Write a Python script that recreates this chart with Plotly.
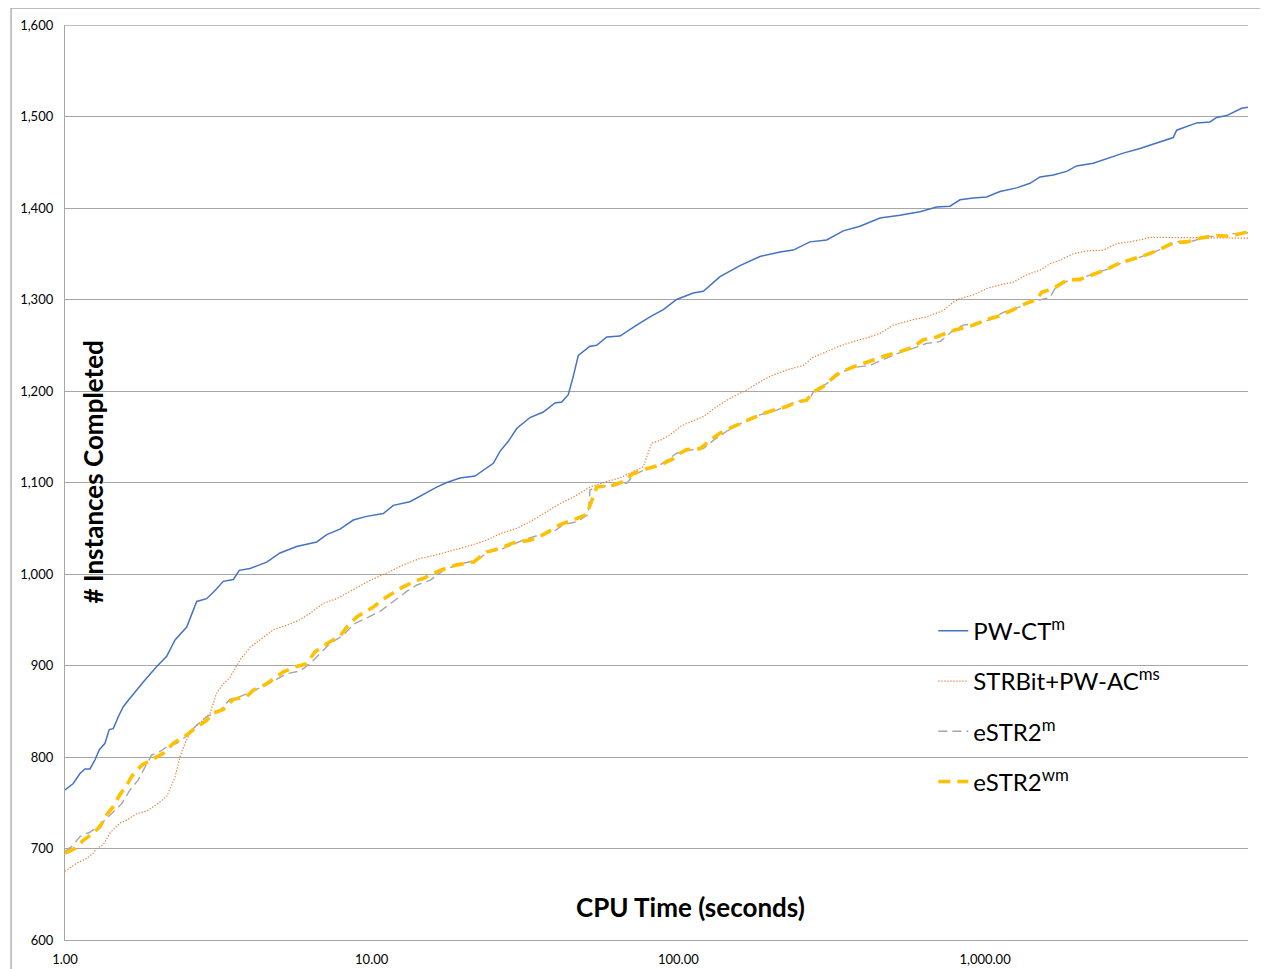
import math
import plotly.graph_objects as go

# ---- data (CPU time in seconds, # instances completed) ----
pwct_x = [1.00,1.064,1.119,1.162,1.206,1.253,1.294,1.350,1.394,1.437,1.492,1.549,1.609,1.691,1.800,1.991,2.146,2.284,2.494,2.688,2.897,3.085,3.282,3.539,3.701,4.011,4.546,5.023,5.693,6.618,7.135,7.883,8.71,9.63,10.91,11.76,13.33,15.11,16.29,17.57,19.41,21.72,24.92,26.2,27.89,29.7,32.82,36.27,39.6,41.66,43.75,45.43,47.17,51.5,54.16,58.4,64.5,73.1,80.8,89.3,98.7,111.8,120.6,136.7,158.8,184.5,214.5,236.9,268.5,304.5,344.9,390.9,454.3,527.8,613.5,695.5,768.5,828.3,915.2,1012,1118.5,1267.6,1401,1510,1669,1845,1989,2253,2491,2822,3200,3627,4108,4214,4897,5412,5690,6133,6865,7200]
pwct_y = [764,771,782,787,787,797,808,815,830,831,844,855,862,871,882,899,910,928,942,970,973,982,992,994,1004,1006,1013,1023,1030,1035,1043,1049,1059,1063,1066,1075,1079,1089,1095,1100,1105,1107,1121,1134,1145,1159,1171,1177,1187,1188,1196,1216,1239,1249,1250,1259,1260,1272,1281,1289,1300,1307,1309,1325,1337,1347,1352,1354,1363,1365,1375,1380,1389,1392,1396,1401,1402,1409,1411,1412,1418,1422,1427,1434,1436,1440,1446,1449,1454,1460,1465,1471,1477,1485,1493,1494,1499,1501,1509,1510]

strbit_x = [1.00,1.092,1.177,1.237,1.269,1.333,1.402,1.511,1.589,1.714,1.847,1.991,2.146,2.284,2.371,2.462,2.589,2.755,2.971,3.123,3.282,3.451,3.721,4.011,4.323,4.778,5.283,5.84,6.293,6.955,7.69,8.71,9.87,11.19,12.68,14.37,16.29,18.45,20.92,23.71,26.2,29.7,32.82,37.21,41.11,45.43,51.5,58.4,64.5,71.3,76.8,81.8,87.1,93.9,101.2,109,120.6,133.3,151,167,180,199,225.4,255.4,275.4,304.5,328.2,371.8,411.1,454.3,502.1,583.3,645,730.6,787.5,828.3,915.2,1012,1118.5,1236,1367,1510,1628,1755,1940,2145,2429,2686,2968,3280,3448,7200]
strbit_y = [675,684,689,695,700,704,717,728,731,738,741,748,757,778,800,815,830,837,848,870,880,887,906,920,928,939,944,950,957,968,973,983,993,1001,1010,1017,1021,1026,1031,1037,1044,1050,1057,1068,1077,1084,1095,1101,1105,1112,1117,1143,1146,1152,1161,1166,1172,1183,1194,1201,1208,1216,1223,1228,1237,1243,1248,1254,1258,1263,1272,1278,1281,1288,1297,1301,1305,1312,1316,1319,1327,1332,1339,1343,1350,1353,1354,1361,1363,1366,1368,1367]

estr2m_x = [1.00,1.051,1.119,1.206,1.284,1.35,1.437,1.531,1.629,1.734,1.823,1.917,2.04,2.146,2.313,2.494,2.688,2.897,3.202,3.451,3.721,4.011,4.546,5.283,5.84,6.293,6.783,7.31,8.08,8.71,9.63,10.64,11.76,13.01,14.03,15.49,17.12,18.93,21.99,23.71,26.86,31.21,35.39,39.09,42.16,46.6,50.85,51.5,54.16,61.35,67.8,71.3,78.8,87.1,98.7,111.8,120.6,130,143.7,162.8,184.5,209.2,236.9,268.5,275.4,304.5,336.5,362.7,421.3,477.8,527.8,598.4,645,712.9,768.5,787.5,849,938.4,1038,1147,1299,1436,1628,1690,1845,2039,2311,2554,2822,3122,3448,3811,4214,4774,5278,5979,6447,7200]
estr2m_y = [697,702,713,718,724,731,740,749,764,775,789,802,806,811,815,823,835,844,851,863,866,871,879,891,894,902,913,924,933,945,952,959,970,981,988,993,1004,1010,1015,1023,1028,1037,1043,1046,1054,1057,1065,1092,1095,1097,1099,1108,1115,1119,1132,1136,1137,1146,1156,1166,1174,1179,1187,1192,1199,1208,1219,1225,1228,1236,1242,1248,1252,1254,1263,1267,1272,1274,1278,1286,1292,1298,1302,1312,1320,1323,1329,1334,1341,1345,1350,1356,1363,1364,1369,1369,1372,1373]

estr2wm_x = [1.00,1.078,1.147,1.237,1.30,1.368,1.437,1.511,1.589,1.65,1.778,1.991,2.092,2.255,2.371,2.494,2.62,2.755,2.897,3.044,3.282,3.539,3.913,4.111,4.546,5.15,5.693,6.138,6.534,7.31,7.883,8.286,8.934,10.12,11.19,12.68,14.03,14.73,16.7,18.93,21.45,23.71,26.2,28.95,32.82,36.27,41.11,45.43,50.2,54.16,61.35,66.14,71.3,78.8,87.1,96.2,101.2,106.4,117.6,126.8,136.7,151,167,184.5,203.9,225.4,243,262,275.4,296.9,328.2,362.7,400.9,432.1,477.8,527.8,583.3,628.9,695.5,768.5,828.3,915.2,1012,1118.5,1236,1367,1474,1530,1669,1845,2039,2253,2491,2754,3044,3366,3720,4108,4544,5020,5690,6288,7200]
estr2wm_y = [695,700,709,717,724,737,746,759,769,779,791,800,804,815,819,824,830,835,840,848,852,863,866,873,880,893,899,902,915,926,932,942,953,964,975,986,993,995,1004,1010,1013,1024,1028,1034,1037,1043,1054,1059,1065,1095,1097,1101,1110,1115,1119,1126,1132,1136,1137,1146,1154,1161,1168,1174,1179,1183,1188,1190,1199,1205,1218,1225,1230,1234,1239,1243,1248,1256,1259,1265,1268,1272,1278,1282,1289,1296,1300,1308,1312,1321,1322,1327,1333,1340,1344,1349,1355,1362,1363,1367,1370,1369,1374]

series_names = ["PW-CT<sup>m</sup>", "STRBit+PW-AC<sup>ms</sup>", "eSTR2<sup>m</sup>", "eSTR2<sup>wm</sup>"]
x_ticks = [1, 10, 100, 1000]
x_max = 7200
y_min, y_max = 600, 1600

FONT = "Lato, 'Open Sans', sans-serif"
GRID = "#A6A6A6"

fig = go.Figure()
fig.add_trace(go.Scatter(x=pwct_x, y=pwct_y, mode="lines", name=series_names[0],
                         legendgroup="a", line=dict(color="#4472C4", width=1.5)))
fig.add_trace(go.Scatter(x=strbit_x, y=strbit_y, mode="lines", name=series_names[1],
                         legendgroup="b", line=dict(color="#ED7D31", width=1.2, dash="1.3px,1.7px")))
fig.add_trace(go.Scatter(x=estr2m_x, y=estr2m_y, mode="lines", name=series_names[2],
                         legendgroup="c", line=dict(color="#A5A5A5", width=1.4, dash="9px,5px")))
fig.add_trace(go.Scatter(x=estr2wm_x, y=estr2wm_y, mode="lines", name=series_names[3],
                         legendgroup="d", line=dict(color="#FFC000", width=3.6, dash="12px,7px")))

fig.update_xaxes(type="log", range=[0, math.log10(x_max)], tickvals=x_ticks,
                 tickformat=",.2f", showgrid=False, showline=True, linecolor=GRID,
                 linewidth=1.3, ticks="", ticklabelstandoff=7, automargin=False,
                 tickfont=dict(size=13, color="#000000", family=FONT), zeroline=False)
fig.update_yaxes(range=[y_min, y_max], dtick=100, tickformat=",", showgrid=True,
                 gridcolor=GRID, gridwidth=1.3, showline=True, linecolor=GRID,
                 linewidth=1.3, ticks="", ticklabelstandoff=8, automargin=False,
                 tickfont=dict(size=13, color="#000000", family=FONT), zeroline=False)

fig.update_layout(
    width=1260, height=961,
    margin=dict(l=57, r=20, t=17, b=29),
    plot_bgcolor="white", paper_bgcolor="white",
    font=dict(family=FONT, color="#000000"),
    legend=dict(x=0.734, y=0.362, xanchor="left", yanchor="top",
                bgcolor="rgba(0,0,0,0)", font=dict(size=24, family=FONT, color="#000000"),
                tracegroupgap=16, itemwidth=30),
    annotations=[
        dict(text="<b># Instances Completed</b>", xref="paper", yref="paper",
             x=0.0237, y=0.511, xanchor="center", yanchor="middle", textangle=-90,
             showarrow=False, font=dict(size=26, family=FONT, color="#000000")),
        dict(text="<b>CPU Time (seconds)</b>", xref="paper", yref="paper",
             x=0.529, y=0.036, xanchor="center", yanchor="middle", showarrow=False,
             font=dict(size=26, family=FONT, color="#000000")),
    ],
    shapes=[
        dict(type="rect", xref="paper", yref="paper",
             x0=-0.0456, x1=1.03, y0=-0.05, y1=1.0186,
             line=dict(color=GRID, width=1.3), layer="below"),
        dict(type="line", xref="paper", yref="y", x0=0, x1=1, y0=y_max, y1=y_max,
             line=dict(color=GRID, width=1.3), layer="below"),
    ],
)

fig.write_html("out.html")
